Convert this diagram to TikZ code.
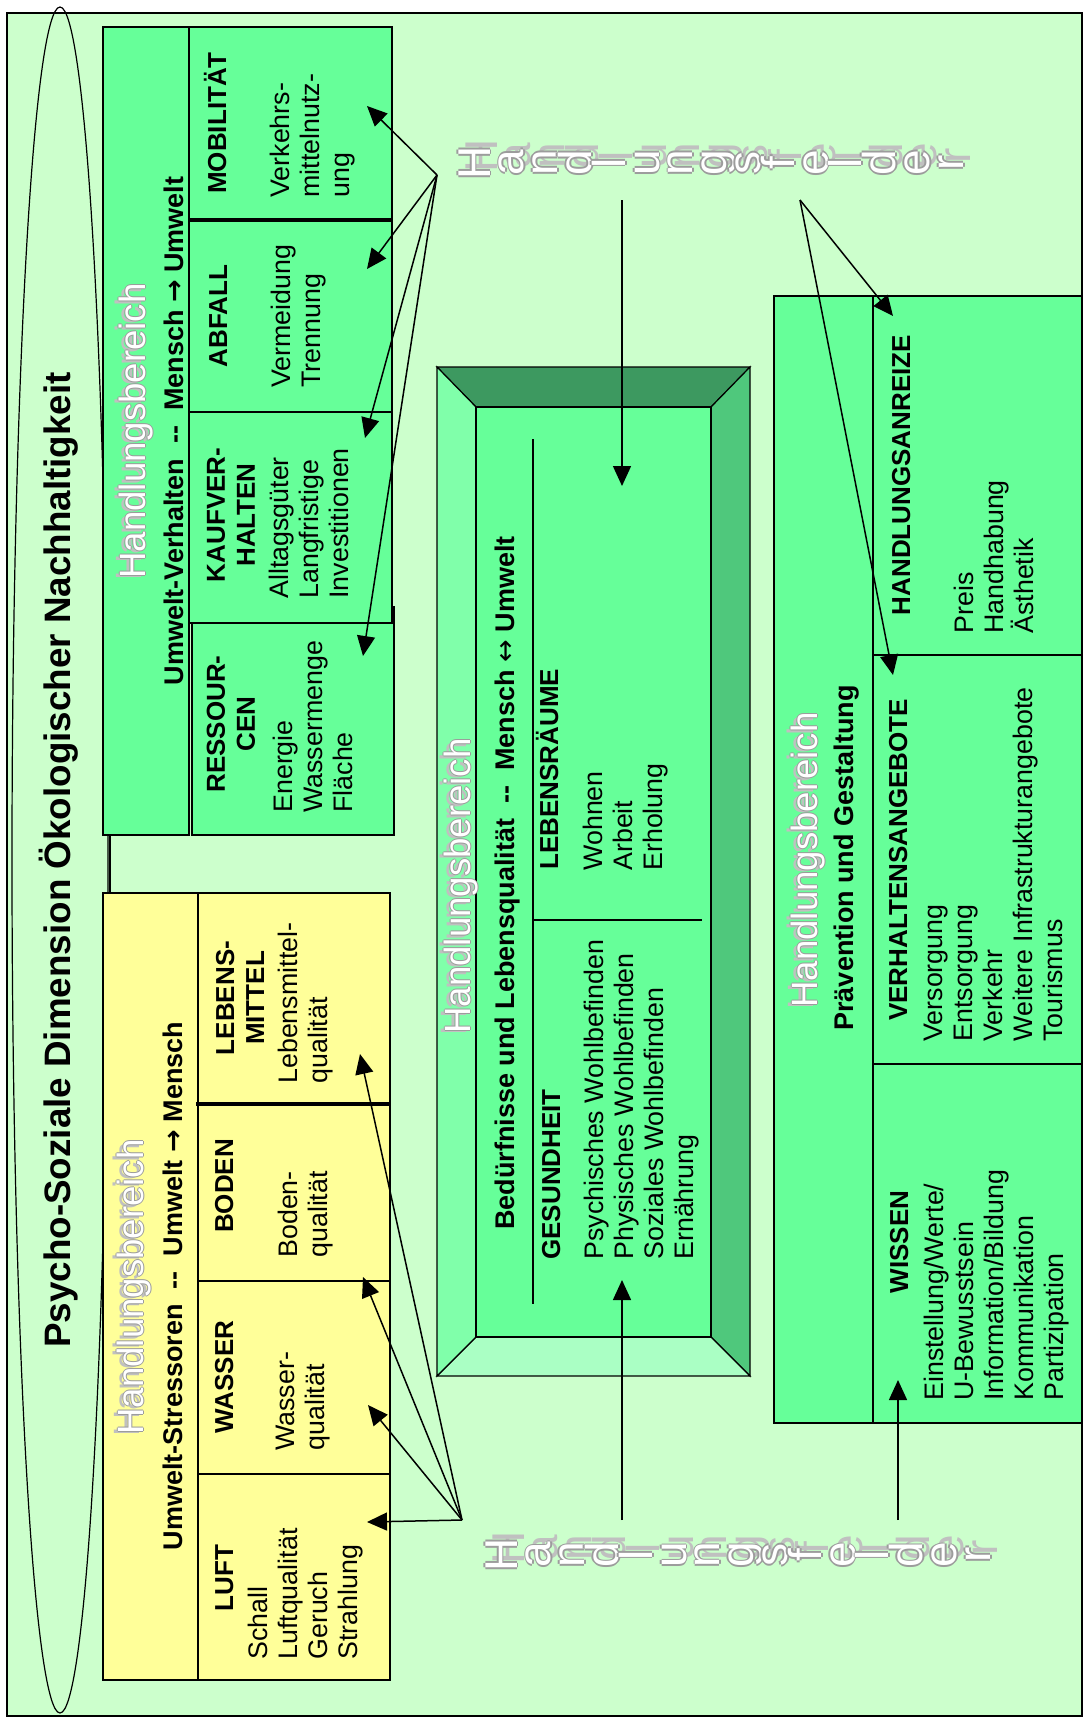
\documentclass[tikz,border=0pt]{standalone}
\usepackage{fontspec}
\setmainfont{Liberation Sans}
\newfontfamily\arrowfont{DejaVu Sans}
\usetikzlibrary{arrows.meta}

\definecolor{bggreen}{HTML}{CCFFCC}
\definecolor{boxgreen}{HTML}{66FF99}
\definecolor{boxyellow}{HTML}{FFFF99}
\definecolor{bevtop}{HTML}{3D9960}
\definecolor{bevright}{HTML}{4FC87C}
\definecolor{bevbottom}{HTML}{AAFFC4}
\definecolor{bevleft}{HTML}{80FFAA}
\definecolor{embshadow}{HTML}{C0C0C0}
\definecolor{embrim}{HTML}{9C9C9C}

% white text with grey rim and grey shadow
% #1 shadow kern, #2 shadow raise, #3 rim, #4 text
\newcommand\embtext[4]{\leavevmode
  \rlap{\kern#1\raisebox{#2}{\textcolor{embshadow}{#4}}}%
  \rlap{\kern#3\textcolor{embrim}{#4}}%
  \rlap{\kern-#3\textcolor{embrim}{#4}}%
  \rlap{\raisebox{#3}{\textcolor{embrim}{#4}}}%
  \rlap{\raisebox{-#3}{\textcolor{embrim}{#4}}}%
  \textcolor{white}{#4}}
\newcommand\toarrow{{\arrowfont →}}
\newcommand\botharrow{{\arrowfont\mdseries ↔}}

\begin{document}
\begin{tikzpicture}[x=0.5pt, y=-0.5pt,
    every node/.style={inner sep=0pt},
    frame/.style={draw=black, line width=0.6pt},
    heavy/.style={draw=black, line width=2pt},
    arr/.style={-{Triangle[length=10pt,width=9pt]}, line width=0.75pt},
    title/.style={rotate=90, anchor=base, font=\fontsize{18.4}{22}\selectfont\bfseries},
    emb/.style={rotate=90, anchor=base, font=\fontsize{18.3}{22}\selectfont},
    feld/.style={rotate=90, anchor=base, font=\fontsize{23}{26}\selectfont},
    sub/.style={rotate=90, anchor=base, font=\fontsize{13.5}{15}\selectfont\bfseries},
    head/.style={rotate=90, align=center, font=\fontsize{13}{15}\selectfont\bfseries},
    items/.style={rotate=90, anchor=north west, align=left, font=\fontsize{13.4}{15}\selectfont}
]
\useasboundingbox (0,0) rectangle (1084,1718);

% background and ellipse
\draw[frame, fill=bggreen] (7,13) rectangle (1082,1716);
\draw[line width=0.6pt] (60,860) ellipse [x radius=48, y radius=853];
\node[title] (title) at (70,860) {Psycho-Soziale Dimension Ökologischer Nachhaltigkeit};

% Umwelt-Verhalten (top left)
\draw[frame, fill=boxgreen] (103,27) rectangle (189,835);
\draw[frame, fill=boxgreen] (189,27) rectangle (392,220);
\draw[frame, fill=boxgreen] (189,220) rectangle (392,412);
\draw[frame, fill=boxgreen] (192,607) rectangle (394,835);
\draw[frame, fill=boxgreen] (189,412) rectangle (392,623);
\draw[heavy] (189,220) -- (392,220);
\node[emb] (tlEmb) at (145,431) {\embtext{-1.2pt}{1.8pt}{0.5pt}{Handlungsbereich}};
\node[sub] (tlSub) at (183,431) {Umwelt-Verhalten\ \ -{}-\ \ Mensch \toarrow{} Umwelt};
\node[head, anchor=base] (mob) at (226,123) {MOBILITÄT};
\node[items] (mobItems) at (270,198) {Verkehrs-\\mittelnutz-\\ung};
\node[head, anchor=base] (abf) at (227,316) {ABFALL};
\node[items] (abfItems) at (271,388) {Vermeidung\\Trennung};
\node[head] (kauf) at (231,515) {KAUFVER-\\HALTEN};
\node[items] (kaufItems) at (269,599) {Alltagsgüter\\Langfristige\\Investitionen};
\node[head] (res) at (231,724) {RESSOUR-\\CEN};
\node[items] (resItems) at (273,813) {Energie\\Wassermenge\\Fläche};

% link between the two left boxes
\coordinate (tlFoot) at (110,835);
\coordinate (blHead) at (110,893);
\draw[line width=0.6pt] (tlFoot) -- (blHead);

% Umwelt-Stressoren (bottom left)
\draw[frame, fill=boxyellow] (103,893) rectangle (198,1680);
\draw[frame, fill=boxyellow] (198,893) rectangle (390,1104);
\draw[frame, fill=boxyellow] (198,1104) rectangle (390,1281);
\draw[frame, fill=boxyellow] (198,1281) rectangle (390,1474);
\draw[frame, fill=boxyellow] (198,1474) rectangle (390,1680);
\draw[heavy] (196,1104) -- (390,1104);
\node[emb] (blEmb) at (143,1287) {\embtext{-1.2pt}{1.8pt}{0.5pt}{Handlungsbereich}};
\node[sub] (blSub) at (182,1286) {Umwelt-Stressoren\ \ -{}-\ \ Umwelt \toarrow{} Mensch};
\node[head] (lebm) at (240,998) {LEBENS-\\MITTEL};
\node[items] (lebmItems) at (278,1084) {Lebensmittel-\\qualität};
\node[head, anchor=base] (boden) at (233,1186) {BODEN};
\node[items] (bodenItems) at (278,1258) {Boden-\\qualität};
\node[head, anchor=base] (wasser) at (233,1377) {WASSER};
\node[items] (wasserItems) at (276,1451) {Wasser-\\qualität};
\node[head, anchor=base] (luft) at (233,1578) {LUFT};
\node[items] (luftItems) at (248,1660) {Schall\\Luftqualität\\Geruch\\Strahlung};

% Beduerfnisse und Lebensqualitaet (middle, bevelled)
\draw[frame, fill=bevtop] (437,367) -- (750,367) -- (711,407) -- (476,407) -- cycle;
\draw[frame, fill=bevright] (750,367) -- (750,1376) -- (711,1337) -- (711,407) -- cycle;
\draw[frame, fill=bevbottom] (437,1376) -- (750,1376) -- (711,1337) -- (476,1337) -- cycle;
\draw[frame, fill=bevleft] (437,367) -- (476,407) -- (476,1337) -- (437,1376) -- cycle;
\draw[frame, fill=boxgreen] (476,407) rectangle (711,1337);
\draw[line width=0.6pt] (533,439) -- (533,1304);
\draw[line width=0.6pt] (533,920) -- (702,920);
\node[emb] (midEmb) at (470,886) {\embtext{-1.2pt}{1.8pt}{0.5pt}{Handlungsbereich}};
\node[sub] (midSub) at (514,883) {Bedürfnisse und Lebensqualität\ \ -{}-\ \ Mensch \botharrow{} Umwelt};
\node[head, anchor=base west] (lebr) at (558,870) {LEBENSRÄUME};
\node[items] (lebrItems) at (583,871) {Wohnen\\Arbeit\\Erholung};
\node[head, anchor=base west] (ges) at (560,1260) {GESUNDHEIT};
\node[items] (gesItems) at (584,1260) {Psychisches Wohlbefinden\\Physisches Wohlbefinden\\Soziales Wohlbefinden\\Ernährung};

% Praevention und Gestaltung (right)
\draw[frame, fill=boxgreen] (774,296) rectangle (1082,1423);
\draw[line width=0.6pt] (873,296) -- (873,1423);
\draw[line width=0.6pt] (873,655) -- (1082,655);
\draw[line width=0.6pt] (873,1064) -- (1082,1064);
\node[emb] (rtEmb) at (817,860) {\embtext{-1.2pt}{1.8pt}{0.5pt}{Handlungsbereich}};
\node[sub] (rtSub) at (853,858) {Prävention und Gestaltung};
\node[head, anchor=base] (anreiz) at (910,475) {HANDLUNGSANREIZE};
\node[items] (anreizItems) at (954,634) {Preis\\Handhabung\\Ästhetik};
\node[head, anchor=base] (angebot) at (907,860) {VERHALTENSANGEBOTE};
\node[items] (angebotItems) at (924,1042) {Versorgung\\Entsorgung\\Verkehr\\Weitere Infrastrukturangebote\\Tourismus};
\node[head, anchor=base] (wissen) at (908,1242) {WISSEN};
\node[items] (wissenItems) at (924,1401) {Einstellung/Werte/\\U-Bewusstsein\\Information/Bildung\\Kommunikation\\Partizipation};

% Handlungsfelder
\foreach \ch [count=\i from 0] in {H,a,n,d,l,u,n,g,s,f,e,l,d,e,r} {
  \node[feld] (fTop\i) at ({490+33.8*\i},163) {\embtext{3.5pt}{-3.5pt}{0.9pt}{\ch}};
  \node[feld] (fBot\i) at ({517+33.8*\i},1555) {\embtext{3.5pt}{-3.5pt}{0.9pt}{\ch}};
}

% arrows
\coordinate (fanTL) at (437,175);
\coordinate (fanBL) at (462,1520);
\coordinate (fanRT) at (800,200);
\coordinate (midTop) at (622,200);
\coordinate (midBot) at (622,1520);
\coordinate (rtBot) at (898,1520);
\coordinate (tipMob) at (367,106);
\coordinate (tipAbf) at (367,269);
\coordinate (tipKauf) at (365,438);
\coordinate (tipRes) at (363,656);
\coordinate (tipLuft) at (367,1522);
\coordinate (tipWasser) at (368,1405);
\coordinate (tipBoden) at (363,1277);
\coordinate (tipLebm) at (360,1054);
\coordinate (tipLebr) at (622,486);
\coordinate (tipGes) at (622,1280);
\coordinate (tipAnreiz) at (893,316);
\coordinate (tipAngebot) at (893,675);
\coordinate (tipWissen) at (898,1380);
\foreach \t in {tipMob,tipAbf,tipKauf,tipRes}
  \draw[arr] (fanTL) -- (\t);
\foreach \t in {tipLuft,tipWasser,tipBoden,tipLebm}
  \draw[arr] (fanBL) -- (\t);
\draw[arr] (midTop) -- (tipLebr);
\draw[arr] (midBot) -- (tipGes);
\draw[arr] (fanRT) -- (tipAnreiz);
\draw[arr] (fanRT) -- (tipAngebot);
\draw[arr] (rtBot) -- (tipWissen);
\end{tikzpicture}
\end{document}
